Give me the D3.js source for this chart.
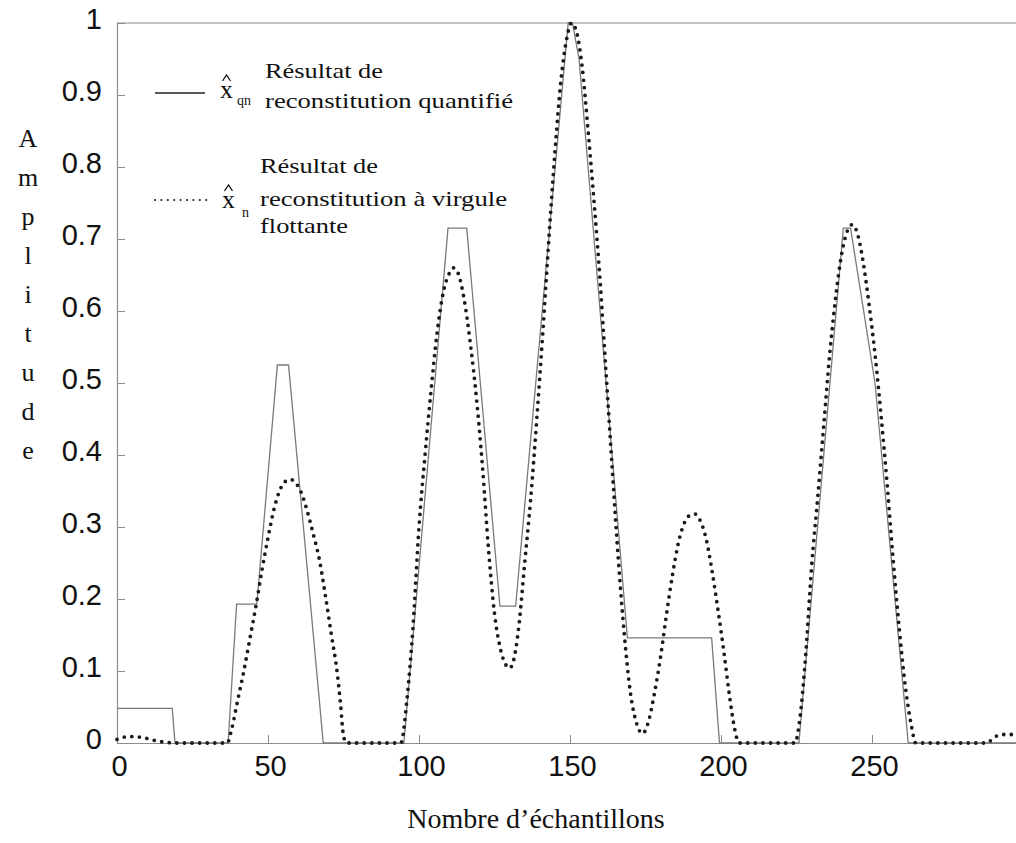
<!DOCTYPE html>
<html>
<head>
<meta charset="utf-8">
<script src="https://cdn.jsdelivr.net/npm/d3@7"></script>
<style>
  html, body { margin: 0; padding: 0; background: #fff; }
  svg { display: block; }
</style>
</head>
<body>
<svg id="chart" width="1016" height="843"></svg>
<script>
// ---------- data ----------
const xTicks = [0, 50, 100, 150, 200, 250];
const yTicks = [0, 0.1, 0.2, 0.3, 0.4, 0.5, 0.6, 0.7, 0.8, 0.9, 1];

// quantized reconstruction (solid)
const quantX = [0, 18.3, 19.2, 36.8, 39.6, 46.3, 53.1, 56.8, 68.3, 95, 109.6, 115.8, 126.8, 132, 149.4, 150.8, 153, 169, 196.9, 199.5, 225.8, 240.5, 242.9, 251, 262, 300];
const quantY = [0.048, 0.048, 0, 0, 0.193, 0.193, 0.525, 0.525, 0, 0, 0.715, 0.715, 0.19, 0.19, 1.0, 1.0, 0.95, 0.146, 0.146, 0, 0, 0.715, 0.715, 0.5, 0, 0];

// floating-point reconstruction (dotted)
const floatX = [0, 4, 8, 12, 16, 20, 36.5, 38, 40, 42, 44, 46, 48, 50, 52, 54, 56, 57.5, 59, 61, 63, 65, 67, 69, 71, 73, 74, 75, 76,
  94, 96, 98, 100, 102, 104, 106, 108, 110, 111.5, 113, 115, 117, 119, 121, 123, 125, 127, 129, 130, 131, 133, 135, 137, 139, 141, 143, 145, 147, 149, 150.5,
  152, 154, 156, 158, 160, 162, 164, 166, 168, 170, 172, 174, 176, 178, 180, 182, 184, 186, 188, 190, 191.5, 193, 195, 197, 199, 201, 203, 204.5, 206,
  224.5, 226, 228, 230, 232, 234, 236, 238, 240, 242, 243.5, 245, 247, 249, 251, 253, 255, 257, 259, 261, 263, 264.5, 288, 290, 292, 295, 298, 300];
const floatY = [0.005, 0.009, 0.008, 0.004, 0.001, 0, 0, 0.02, 0.06, 0.1, 0.145, 0.19, 0.24, 0.285, 0.325, 0.352, 0.364, 0.366, 0.362, 0.348, 0.322, 0.29, 0.255, 0.205, 0.15, 0.095, 0.055, 0.01, 0,
  0, 0.06, 0.16, 0.3, 0.4, 0.49, 0.57, 0.625, 0.652, 0.66, 0.652, 0.615, 0.555, 0.48, 0.385, 0.27, 0.18, 0.13, 0.107, 0.104, 0.11, 0.16, 0.25, 0.34, 0.45, 0.57, 0.7, 0.82, 0.92, 0.98, 1.0,
  0.99, 0.94, 0.85, 0.75, 0.64, 0.51, 0.38, 0.255, 0.15, 0.07, 0.028, 0.013, 0.03, 0.07, 0.12, 0.18, 0.235, 0.28, 0.307, 0.317, 0.318, 0.31, 0.285, 0.24, 0.185, 0.125, 0.06, 0.02, 0,
  0, 0.03, 0.12, 0.245, 0.34, 0.44, 0.54, 0.62, 0.68, 0.713, 0.72, 0.71, 0.67, 0.61, 0.54, 0.455, 0.36, 0.255, 0.16, 0.08, 0.025, 0, 0, 0.006, 0.011, 0.012, 0.011, 0.01];

const yTitle = "Amplitude";
const xTitle = "Nombre d\u2019échantillons";
const legend1 = ["Résultat de", "reconstitution quantifié"];
const legend2 = ["Résultat de", "reconstitution à virgule", "flottante"];

// ---------- layout ----------
const svg = d3.select("#chart");
const x = d3.scaleLinear().domain([0, 300]).range([117, 1023]);
const y = d3.scaleLinear().domain([0, 1]).range([743, 23]);
const axisColor = "#8c8c8c";
const sans = "'Liberation Sans', Arial, sans-serif";
const serif = "'Liberation Serif', 'Times New Roman', serif";

// top border
svg.append("line")
  .attr("x1", x(0)).attr("x2", x(300))
  .attr("y1", y(1)).attr("y2", y(1))
  .attr("stroke", axisColor).attr("stroke-width", 1.2);

// x axis
const gx = svg.append("g").attr("transform", `translate(0,${y(0)})`)
  .call(d3.axisBottom(x).tickValues(xTicks).tickSizeInner(-8).tickSizeOuter(0).tickPadding(12).tickFormat(d3.format("d")));
gx.select(".domain").attr("stroke", axisColor).attr("stroke-width", 1.2);
gx.selectAll(".tick line").attr("stroke", axisColor);
gx.selectAll(".tick text").attr("font-family", sans).attr("font-size", 29).attr("fill", "#111").attr("dx", 2);

// y axis
const gy = svg.append("g").attr("transform", `translate(${x(0)},0)`)
  .call(d3.axisLeft(y).tickValues(yTicks).tickSizeInner(-8).tickSizeOuter(0).tickPadding(15).tickFormat(d3.format("~g")));
gy.select(".domain").attr("stroke", axisColor).attr("stroke-width", 1.2);
gy.selectAll(".tick line").attr("stroke", axisColor);
gy.selectAll(".tick text").attr("font-family", sans).attr("font-size", 29).attr("fill", "#111").attr("dy", "0.2em");

// series
const quantData = quantX.map((v, i) => [v, quantY[i]]);
const floatData = floatX.map((v, i) => [v, floatY[i]]);

svg.append("path")
  .datum(quantData)
  .attr("fill", "none")
  .attr("stroke", "#7a7a7a")
  .attr("stroke-width", 1.3)
  .attr("d", d3.line().x(d => x(d[0])).y(d => y(d[1])));

svg.append("path")
  .datum(floatData)
  .attr("fill", "none")
  .attr("stroke", "#1a1a1a")
  .attr("stroke-width", 3.8)
  .attr("stroke-linecap", "round")
  .attr("stroke-dasharray", "0 7.6")
  .attr("d", d3.line().curve(d3.curveMonotoneX).x(d => x(d[0])).y(d => y(d[1])));

// y title (stacked letters)
svg.append("g").selectAll("text")
  .data(yTitle.split(""))
  .join("text")
  .attr("x", 28)
  .attr("y", (d, i) => 147 + i * 39)
  .attr("text-anchor", "middle")
  .attr("font-family", serif)
  .attr("font-size", 26)
  .attr("fill", "#111")
  .text(d => d);

// x title
svg.append("text")
  .attr("x", 536).attr("y", 828)
  .attr("text-anchor", "middle")
  .attr("font-family", serif).attr("font-size", 28).attr("fill", "#111")
  .text(xTitle);

// legend
const lg = svg.append("g");
lg.append("line").attr("x1", 155).attr("x2", 205).attr("y1", 93).attr("y2", 93)
  .attr("stroke", "#222").attr("stroke-width", 1.3);
lg.append("line").attr("x1", 155).attr("x2", 207).attr("y1", 200).attr("y2", 200)
  .attr("stroke", "#222").attr("stroke-width", 2.2).attr("stroke-linecap", "round").attr("stroke-dasharray", "0 6.4");

function hatSymbol(cx, base, sub, subDx, subBase) {
  lg.append("text").attr("x", cx).attr("y", base).attr("font-family", serif).attr("font-size", 26).attr("fill", "#111").text("x");
  const mx = cx + 6.5, top = base - 23;
  lg.append("path")
    .attr("d", `M${mx - 4},${top + 6}L${mx},${top}L${mx + 4},${top + 6}`)
    .attr("fill", "none").attr("stroke", "#111").attr("stroke-width", 1.3);
  lg.append("text").attr("x", cx + subDx).attr("y", subBase).attr("font-family", serif).attr("font-size", 14).attr("fill", "#111").text(sub);
}
hatSymbol(220, 98, "qn", 17, 105);
hatSymbol(222, 208, "n", 20, 217);

const lw1 = [118, 248];
legend1.forEach((t, i) => {
  lg.append("text").attr("x", 265).attr("y", 78 + i * 30)
    .attr("font-family", serif).attr("font-size", 22).attr("fill", "#111")
    .attr("textLength", lw1[i]).attr("lengthAdjust", "spacingAndGlyphs").text(t);
});
const lw2 = [118, 247, 88];
const lb2 = [173, 206, 233];
legend2.forEach((t, i) => {
  lg.append("text").attr("x", 260).attr("y", lb2[i])
    .attr("font-family", serif).attr("font-size", 22).attr("fill", "#111")
    .attr("textLength", lw2[i]).attr("lengthAdjust", "spacingAndGlyphs").text(t);
});
</script>
</body>
</html>
